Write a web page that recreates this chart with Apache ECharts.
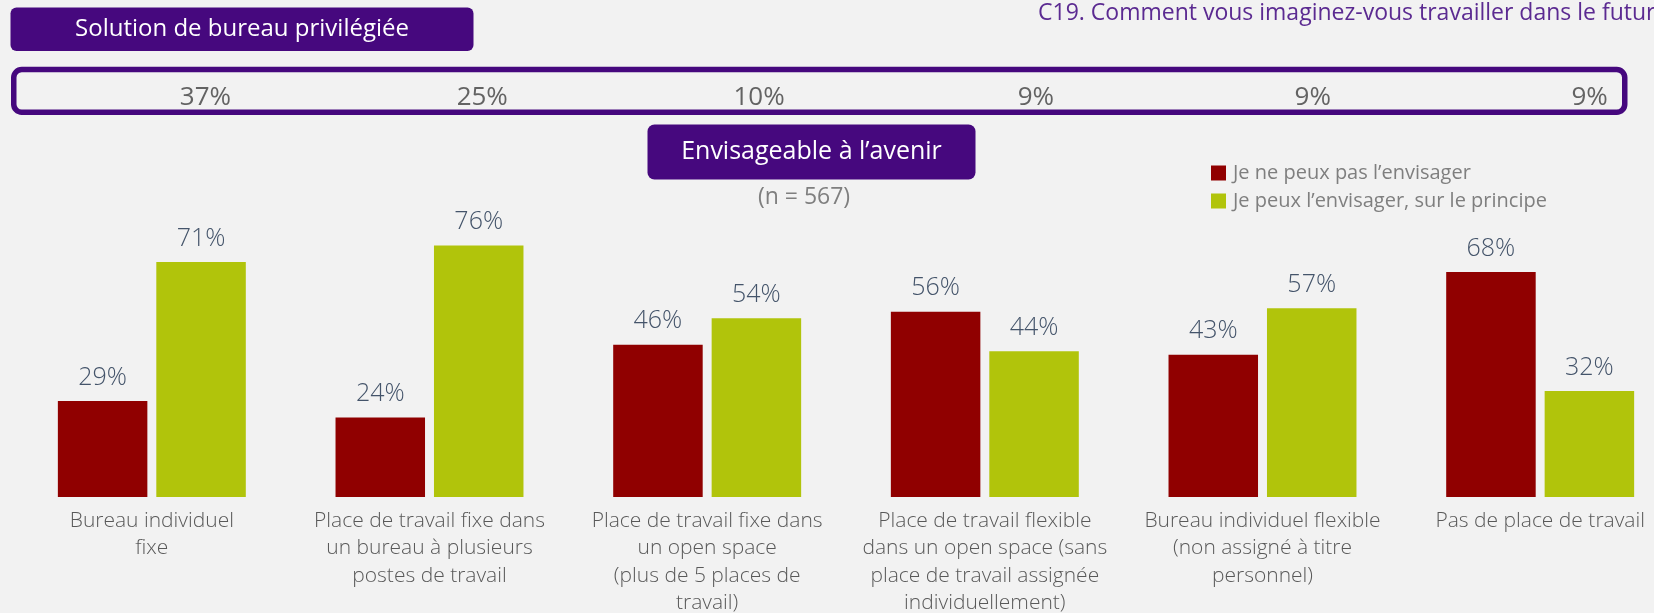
<!DOCTYPE html>
<html>
<head>
<meta charset="utf-8">
<script src="https://cdn.jsdelivr.net/npm/echarts@6.0.0/dist/echarts.min.js"></script>
<style>
  html, body { margin: 0; padding: 0; background: #F2F2F2; }
  #chart { width: 1654px; height: 613px; }
</style>
</head>
<body>
<div id="chart"></div>
<script>
// categories (label lines as in the slide)
const categories = [
  'Bureau individuel\nfixe',
  'Place de travail fixe dans\nun bureau à plusieurs\npostes de travail',
  'Place de travail fixe dans\nun open space\n(plus de 5 places de\ntravail)',
  'Place de travail flexible\ndans un open space (sans\nplace de travail assignée\nindividuellement)',
  'Bureau individuel flexible\n(non assigné à titre\npersonnel)',
  'Pas de place de travail'
]
// "Solution de bureau privilégiée" row
const preferred = [37, 25, 10, 9, 9, 9]
// "Envisageable à l'avenir"
const cannot = [29, 24, 46, 56, 43, 68]
const can = [71, 76, 54, 44, 57, 32]
const seriesNames = ['Je ne peux pas l’envisager', 'Je peux l’envisager, sur le principe']

const PURPLE = '#46087E'
const FONT = '"Open Sans", "Noto Sans", sans-serif'

const chart = echarts.init(document.getElementById('chart'), null, { renderer: 'canvas' })

function txt(x, y, text, size, color, align) {
  return {
    type: 'text', x, y, silent: true,
    style: {
      text, fill: color, font: `${size}px ${FONT}`,
      align: align || 'center', verticalAlign: 'middle',
      textAlign: align || 'center', textVerticalAlign: 'middle'
    }
  }
}

const valueLabel = {
  show: true,
  position: 'top',
  distance: 11,
  formatter: (p) => p.value + '%',
  color: '#44546A',
  fontSize: 25,
  fontFamily: FONT,
  fontWeight: 300
}

chart.setOption({
  backgroundColor: '#F2F2F2',
  animation: false,
  graphic: [
    { type: 'rect', silent: true, shape: { x: 10.5, y: 7.5, width: 463, height: 43.5, r: 6 }, style: { fill: PURPLE } },
    txt(242, 29.5, 'Solution de bureau privilégiée', 24, '#FFFFFF'),
    { type: 'rect', silent: true, shape: { x: 13.75, y: 69.5, width: 1611, height: 42.7, r: 8 }, style: { fill: 'none', stroke: PURPLE, lineWidth: 5.5 } },
    { type: 'rect', silent: true, shape: { x: 647.5, y: 124.5, width: 328, height: 55, r: 7 }, style: { fill: PURPLE } },
    txt(811.5, 151.5, 'Envisageable à l’avenir', 25, '#FFFFFF'),
    txt(804, 197, '(n = 567)', 23, '#7F7F7F'),
    txt(1038, 13, 'C19. Comment vous imaginez-vous travailler dans le futur', 23, '#5B2A91', 'left')
  ],
  legend: {
    orient: 'vertical',
    left: 1206,
    top: 158,
    icon: 'rect',
    itemWidth: 15,
    itemHeight: 15,
    itemGap: 8,
    data: seriesNames,
    textStyle: { color: '#7F7F7F', fontSize: 20, fontFamily: FONT, padding: [0, 0, 0, 2] }
  },
  grid: [
    { left: 13, width: 1666, top: 166, bottom: 116, outerBoundsMode: 'none', containLabel: false },
    { left: 67, width: 1661, top: 79, height: 38, outerBoundsMode: 'none', containLabel: false }
  ],
  xAxis: [
    {
      type: 'category',
      gridIndex: 0,
      data: categories,
      axisLine: { show: false },
      axisTick: { show: false },
      axisLabel: {
        interval: 0,
        margin: 10,
        color: '#595959',
        fontSize: 21,
        lineHeight: 27.5,
        fontFamily: FONT,
        fontWeight: 300
      }
    },
    {
      type: 'category',
      gridIndex: 1,
      data: categories,
      show: false
    }
  ],
  yAxis: [
    { type: 'value', gridIndex: 0, min: 0, max: 100, show: false, splitLine: { show: false } },
    { type: 'value', gridIndex: 1, min: 0, max: 1, show: false, splitLine: { show: false } }
  ],
  series: [
    {
      name: seriesNames[0],
      type: 'bar',
      data: cannot,
      barWidth: 89.5,
      barGap: '10%',
      itemStyle: { color: '#900000' },
      label: valueLabel
    },
    {
      name: seriesNames[1],
      type: 'bar',
      data: can,
      barWidth: 89.5,
      barGap: '10%',
      itemStyle: { color: '#B1C40B' },
      label: valueLabel
    },
    {
      name: 'Solution de bureau privilégiée',
      type: 'scatter',
      xAxisIndex: 1,
      yAxisIndex: 1,
      data: preferred.map((v, i) => [i, 0.5, v]),
      symbolSize: 1,
      itemStyle: { color: 'transparent' },
      silent: true,
      label: {
        show: true,
        position: 'inside',
        formatter: (p) => p.value[2] + '%',
        color: '#3F3F3F',
        fontSize: 26,
        fontFamily: FONT
      }
    }
  ]
})
</script>
</body>
</html>
